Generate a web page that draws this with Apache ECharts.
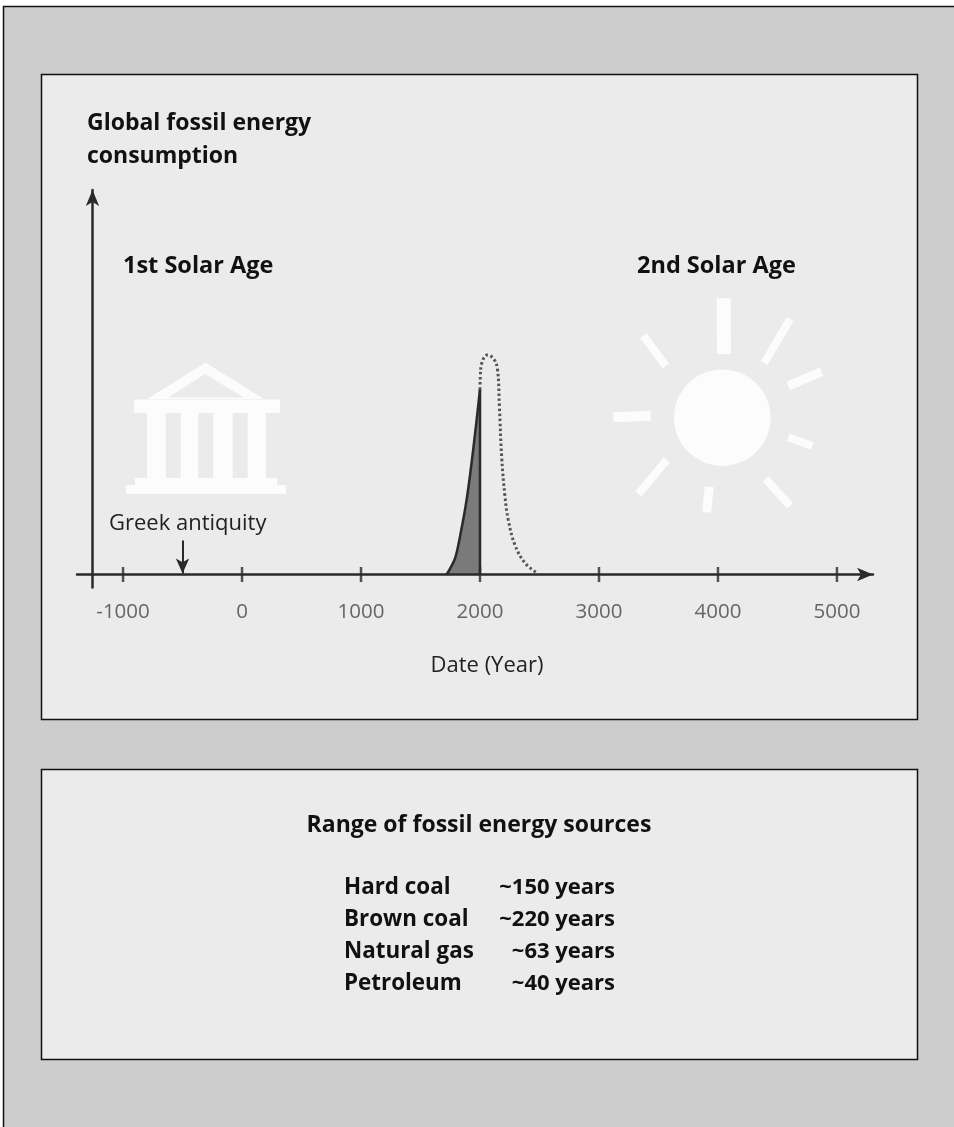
<!DOCTYPE html>
<html><head><meta charset="utf-8">
<style>html,body{margin:0;padding:0;background:#fff}#c{width:954px;height:1127px}</style>
<script src="https://cdn.jsdelivr.net/npm/echarts@6/dist/echarts.min.js"></script>
</head><body><div id="c"></div>
<script>
const tickYears = [-1000, 0, 1000, 2000, 3000, 4000, 5000];
const pastYears = [1720, 1790, 1832, 1888, 1943, 2000];
const pastUse = [0, 16, 38, 75, 125, 185];
const futureYears = [2000, 2003, 2014, 2061, 2112, 2146, 2163, 2182, 2210, 2238, 2294, 2378, 2481];
const futureUse = [185, 198, 211, 219.5, 216, 206, 168, 118, 78, 54.5, 29.5, 11.5, 1.5];
const sourceNames = ['Hard coal', 'Brown coal', 'Natural gas', 'Petroleum'];
const sourceRanges = ['~150 years', '~220 years', '~63 years', '~40 years'];
const FONT = '"Open Sans","Noto Sans",sans-serif';
const zip = (a, b) => a.map((v, i) => [v, b[i]]);

const ink = '#2a2a2a';
const bold = (text, x, y, size, extra) => ({type:'text', z:5, style:Object.assign({text, x, y, font:`bold ${size||23}px ${FONT}`, fill:'#111', textVerticalAlign:'middle'}, extra||{})});
const regular = (text, x, y, extra) => ({type:'text', z:5, style:Object.assign({text, x, y, font:`22px ${FONT}`, fill:'#222', textVerticalAlign:'middle'}, extra||{})});
const ray = (x1, y1, x2, y2, w) => ({type:'line', z:2, shape:{x1, y1, x2, y2}, style:{stroke:'#fcfcfc', lineWidth:w}});
const white = {fill:'#fcfcfc'};
const rect = (x, y, width, height, style) => ({type:'rect', z:2, shape:{x, y, width, height}, style});

const decorations = [
  {type:'rect', z:0, shape:{x:3.5, y:6.5, width:960, height:1140}, style:{fill:'#cdcdcd', stroke:'#111', lineWidth:1.5}},
  {type:'rect', z:1, shape:{x:41.5, y:74.5, width:876, height:645}, style:{fill:'#ebebeb', stroke:'#111', lineWidth:1.5}},
  {type:'rect', z:1, shape:{x:41.5, y:769.5, width:876, height:290}, style:{fill:'#ebebeb', stroke:'#111', lineWidth:1.5}},
  // temple
  {type:'polygon', z:2, shape:{points:[[205.7,362.7],[264,399],[147,399]]}, style:white},
  {type:'polygon', z:3, shape:{points:[[205,374],[244,397.5],[168,397.5]]}, style:{fill:'#ebebeb'}},
  rect(134,399.5,146,13.5,white),
  rect(147,413,18.7,65,white), rect(180.7,413,17.6,65,white), rect(213.3,413,19.4,65,white), rect(247.7,413,18,65,white),
  rect(135,478,142,8,white), rect(126,485,160,9,white),
  // sun
  {type:'circle', z:2, shape:{cx:722.3, cy:417.7, r:48.3}, style:white},
  ray(723.7,298.3,724,354,14), ray(790,319.3,764,363.3,8), ray(821.7,371.7,788.3,386,9),
  ray(788.3,437.3,812.3,446,8), ray(765.7,479,790,505.7,8), ray(709.3,486.7,706.7,512.3,9),
  ray(666.7,460,638.3,494,8), ray(613.3,417.3,650.7,415.7,10), ray(643.3,335.7,666,366,8),
  // text
  bold('Global fossil energy', 87, 123), bold('consumption', 87, 156),
  bold('1st Solar Age', 123, 266, 23.5), bold('2nd Solar Age', 637, 266, 23.5),
  regular('Greek antiquity', 109, 524), regular('Date (Year)', 487, 666, {textAlign:'center'}),
  bold('Range of fossil energy sources', 479, 825, 23, {textAlign:'center'})
];
sourceNames.forEach((n, i) => {
  decorations.push(bold(n, 344, 888 + i * 32, 22.4));
  decorations.push(bold(sourceRanges[i], 615, 888 + i * 32, 22, {textAlign:'right'}));
});

const chart = echarts.init(document.getElementById('c'), null, {renderer:'canvas'});
chart.setOption({
  animation:false,
  graphic:{elements:decorations},
  grid:{left:77, right:81, top:190, bottom:1127-587.5, containLabel:false},
  xAxis:{type:'value', z:10, min:-1387, max:5303, splitLine:{show:false},
    axisLine:{onZero:true, lineStyle:{color:ink, width:2.5}, symbol:['none','arrow'], symbolSize:[10,16]},
    axisTick:{show:false},
    axisLabel:{customValues:tickYears, color:'#666', fontFamily:FONT, fontSize:20.5, margin:14, formatter:v=>String(v)}},
  yAxis:{type:'value', z:10, min:-13, max:384.5, offset:-15.5, splitLine:{show:false}, axisTick:{show:false}, axisLabel:{show:false},
    axisLine:{onZero:false, lineStyle:{color:ink, width:2.5}, symbol:['none','arrow'], symbolSize:[10,16]}},
  series:[
    {type:'line', name:'Projected', z:4, smooth:0.4, symbol:'none', data:zip(futureYears, futureUse), lineStyle:{color:'#555', width:3, type:[2.5,2.5]}},
    {type:'line', name:'Historic', z:5, smooth:0.3, symbol:'none', data:zip(pastYears, pastUse), lineStyle:{color:ink, width:2.5}, areaStyle:{color:'#7a7a7a', opacity:1}},
    {type:'line', name:'Today', z:6, symbol:'none', data:[[2000,0],[2000,185]], lineStyle:{color:ink, width:2.5}},
    {type:'scatter', name:'Ticks', z:6, symbol:'rect', symbolSize:[2.5,15], itemStyle:{color:ink}, data:tickYears.map(y=>[y,0]), silent:true},
    {type:'line', name:'Greek antiquity', z:6, data:[], markLine:{silent:true, animation:false, label:{show:false}, lineStyle:{color:ink, width:2, type:'solid'}, symbolSize:[10,15],
      data:[[{coord:[-500,34], symbol:'none'},{coord:[-500,1], symbol:'arrow'}]]}}
  ]
});
</script></body></html>
